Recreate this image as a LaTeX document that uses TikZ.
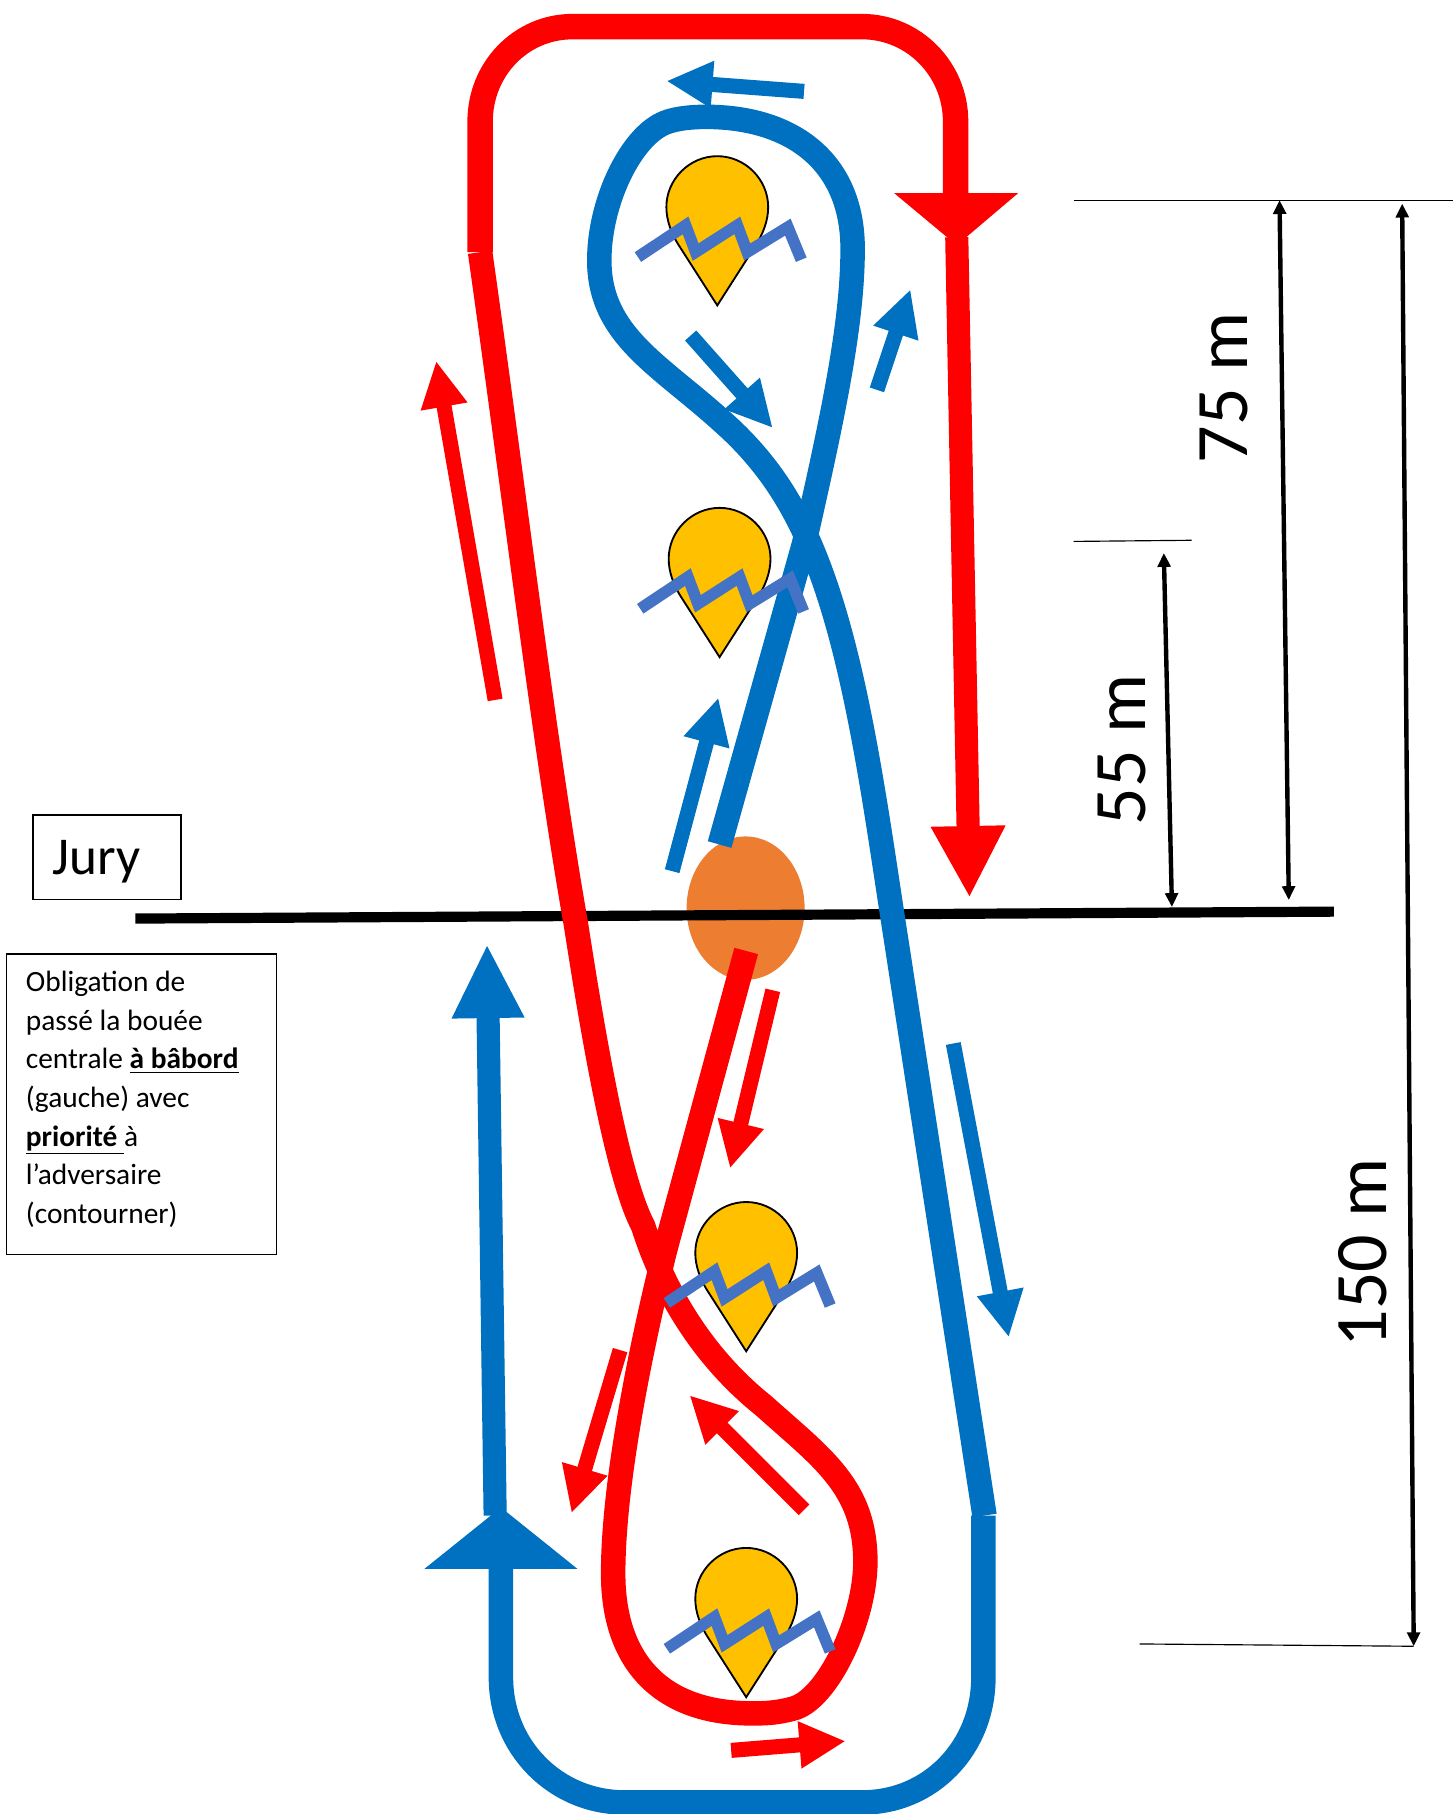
\documentclass[tikz,border=0pt]{standalone}
\usepackage{fontspec}
\setmainfont{Carlito}
\usetikzlibrary{arrows.meta}
\definecolor{cred}{HTML}{FF0000}
\definecolor{cblue}{HTML}{0070C0}
\definecolor{cgold}{HTML}{FFC000}
\definecolor{corange}{HTML}{ED7D31}
\definecolor{czig}{HTML}{4472C4}
\newcommand{\blockarrow}[6]{\draw[#1,line width=#2,-{Triangle[length=#3,width=#4]}] (#5) -- (#6);}
\newcommand{\buoyshape}[2]{%
\draw[shift={(#1,#2)},fill=cgold,draw=black,line width=0.8pt,line join=miter] (0,0) -- (-32,-50) .. controls (-40,-62) and (-44,-74) .. (-44,-85) .. controls (-44,-109) and (-24,-129) .. (0,-129) .. controls (24,-129) and (44,-109) .. (44,-85) .. controls (44,-74) and (40,-62) .. (32,-50) -- cycle;}
\newcommand{\zigzag}[2]{%
\draw[shift={(#1,#2)},czig,line width=5pt,line join=miter] (-68.6,-41.8) -- (-27.4,-69.2) -- (-18.7,-46.1) -- (17.3,-69.2) -- (25.9,-46.1) -- (61,-67.7) -- (72.6,-39.5);}
\tikzset{
 thinline/.style={black,line width=0.5pt},
 dimline/.style={black,line width=1.9pt,{Triangle[length=6pt,width=5.5pt]}-{Triangle[length=6pt,width=5.5pt]}},
 dimtext/.style={font=\fontsize{32}{32}\selectfont,rotate=90,inner sep=0pt},
 boxnode/.style={draw=black,line width=0.6pt,inner sep=0pt,anchor=north west}
}
\begin{document}
\begin{tikzpicture}[x=0.5pt,y=-0.5pt]
\useasboundingbox (0,0) rectangle (1256,1568);
% buoys
\buoyshape{620}{264}
\buoyshape{622}{568}
\buoyshape{645}{1168}
\buoyshape{645}{1467}
% centre buoy and line
\fill[corange] (644.5,785) ellipse [x radius=51,y radius=62];
\draw[black,line width=4.4pt] (117,794) -- (1153,788);
% red course
\draw[cred,line width=11pt] (415,218) -- (415,105) .. controls (415,60) and (450,23) .. (495,23) -- (745,23) .. controls (790,23) and (826,60) .. (826,105) -- (826,170);
\fill[cred] (773,167) -- (880,167) -- (827,212) -- cycle;
\blockarrow{cred}{10pt}{31pt}{30pt}{827,205}{838,776}
\draw[cred,line width=10.6pt,line join=round] (415,218) .. controls (445,430) and (470,640) .. (498,800) .. controls (515,910) and (535,1020) .. (556,1060) .. controls (575,1120) and (610,1175) .. (660,1215) .. controls (710,1260) and (748,1285) .. (748,1350) .. controls (748,1400) and (715,1470) .. (685,1477) .. controls (670,1481) and (660,1481) .. (650,1481) .. controls (570,1481) and (530,1435) .. (530,1360) .. controls (530,1280) and (555,1160) .. (575,1080) -- (645,822);
% blue course
\draw[cblue,line width=10.6pt,line join=round] (622,730) -- (695,470) .. controls (720,360) and (737,280) .. (737,215) .. controls (737,140) and (685,101) .. (610,101) .. controls (600,101) and (585,102) .. (575,106) .. controls (545,118) and (518,175) .. (518,225) .. controls (518,290) and (570,315) .. (625,365) .. controls (670,405) and (695,450) .. (715,510) .. controls (745,600) and (760,720) .. (775,815) -- (851,1310);
\draw[cblue,line width=10.6pt] (850,1310) -- (850,1450) .. controls (850,1510) and (805,1558) .. (745,1558) -- (540,1558) .. controls (480,1558) and (433,1510) .. (433,1450) -- (433,1350);
\fill[cblue] (367,1356) -- (499,1356) -- (433,1303) -- cycle;
\blockarrow{cblue}{10pt}{32pt}{29pt}{428,1310}{421,816}
% small arrows
\blockarrow{cblue}{6.5pt}{20pt}{19pt}{695,79}{576,70}
\blockarrow{cblue}{6.5pt}{20pt}{19pt}{597,290}{668,370}
\blockarrow{cblue}{6.5pt}{20pt}{19pt}{758,337}{787,250}
\blockarrow{cblue}{6.5pt}{20pt}{19pt}{581,753}{621,603}
\blockarrow{cblue}{6.5pt}{20pt}{19pt}{824,902}{872,1156}
\blockarrow{cred}{6.5pt}{20pt}{19pt}{428,605}{377,312}
\blockarrow{cred}{6.5pt}{20pt}{19pt}{668,856}{631,1010}
\blockarrow{cred}{6.5pt}{20pt}{19pt}{536,1167}{494,1308}
\blockarrow{cred}{6.5pt}{20pt}{19pt}{695,1305}{596,1206}
\blockarrow{cred}{6.5pt}{20pt}{19pt}{632,1513}{731,1505}
% zigzags above the courses
\zigzag{620}{264}
\zigzag{622}{568}
\zigzag{645}{1168}
\zigzag{645}{1467}
% dimensions
\draw[thinline] (928,173) -- (1256,173);
\draw[thinline] (928,468) -- (1030,467);
\draw[thinline] (985,1421) -- (1222,1423);
\draw[dimline] (1106,173) -- (1114,778);
\draw[dimline] (1006,478) -- (1013,784);
\draw[dimline] (1212,176) -- (1222,1423);
\node[dimtext] (d75) at (1058,335) {75 m};
\node[dimtext] (d55) at (970,648) {55 m};
\node[dimtext] (d150) at (1178,1083) {150 m};
% boxes
\node[boxnode,minimum width=64pt,minimum height=36.5pt] (jurybox) at (28,704) {};
\node[anchor=west,inner sep=0pt,font=\fontsize{23}{23}\selectfont] (jury) at (45,745) {Jury};
\node[boxnode,minimum width=116.7pt,minimum height=130pt] (notebox) at (5,824) {};
\node[anchor=north west,inner sep=0pt,align=left,font=\fontsize{12.7}{16.7}\selectfont] (note) at (22,839) {Obligation de\\passé la bouée\\centrale \underline{\textbf{à bâbord}}\\(gauche) avec\\\underline{\textbf{priorité\ }}à\\l’adversaire\\(contourner)};
\end{tikzpicture}
\end{document}
